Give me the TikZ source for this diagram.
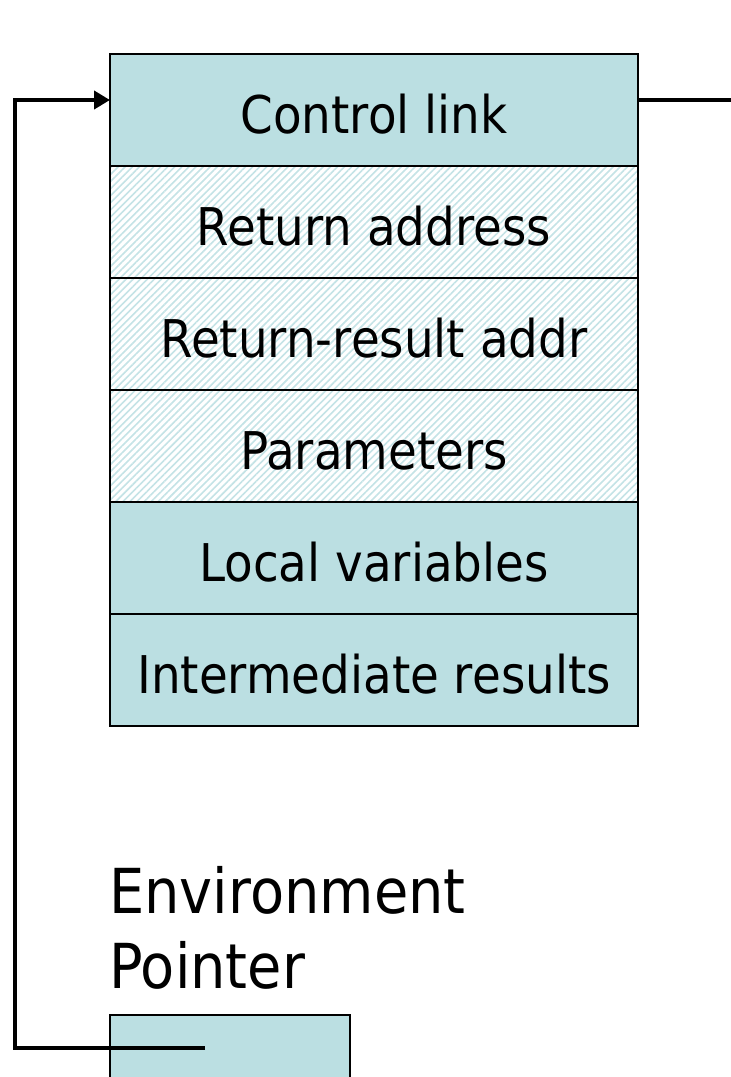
\documentclass[tikz,border=0pt]{standalone}
\usepackage{fontspec}
\newfontfamily\tah[FakeStretch=0.9]{DejaVu Sans}
\usetikzlibrary{patterns.meta,arrows.meta}
\definecolor{boxfill}{HTML}{BBDFE2}
\definecolor{hatch}{HTML}{C4E3E6}
\tikzset{
  x=1pt,y=1pt,
  cell/.style={draw=black,line width=1.5pt,minimum width=528pt,minimum height=112pt,inner sep=0pt,outer sep=0pt,text height=46pt,text depth=0pt,font=\tah\fontsize{52}{60}\selectfont},
  solidcell/.style={cell,fill=boxfill},
  hatchcell/.style={cell,preaction={fill=white},preaction={pattern={Lines[angle=45,distance=5pt,line width=1.6pt]},pattern color=hatch}},
  link/.style={line width=4pt},
  eplabel/.style={anchor=base west,inner sep=0pt,font=\tah\fontsize{62}{75}\selectfont},
}
\begin{document}
\begin{tikzpicture}
\useasboundingbox (0,0) rectangle (731,-1077);
\clip (0,0) rectangle (731,-1077);
\node[solidcell] (c1) at (374,-110) {Control link};
\node[hatchcell] (c2) at (374,-222) {Return address};
\node[hatchcell] (c3) at (374,-334) {Return-result addr};
\node[hatchcell] (c4) at (374,-446) {Parameters};
\node[solidcell] (c5) at (374,-558) {Local variables};
\node[solidcell] (c6) at (374,-670) {Intermediate results};
\node[solidcell,anchor=north west,minimum width=240pt,minimum height=112pt,text height=0pt] (ep) at (110,-1015) {};
\node[eplabel] (env1) at (109,-913) {Environment};
\node[eplabel] (env2) at (109,-988) {Pointer};
\coordinate (epin) at (205,-1048);
\coordinate (corner) at (15,-1048);
\coordinate (cin) at ([yshift=10pt]c1.west);
\coordinate (cout) at ([yshift=10pt]c1.east);
\coordinate (right) at (731,-100);
\draw[link,-{Triangle[length=16pt,width=18pt]}] (epin) -- (corner) |- (cin);
\draw[link] (cout) -- (right);
\end{tikzpicture}
\end{document}
